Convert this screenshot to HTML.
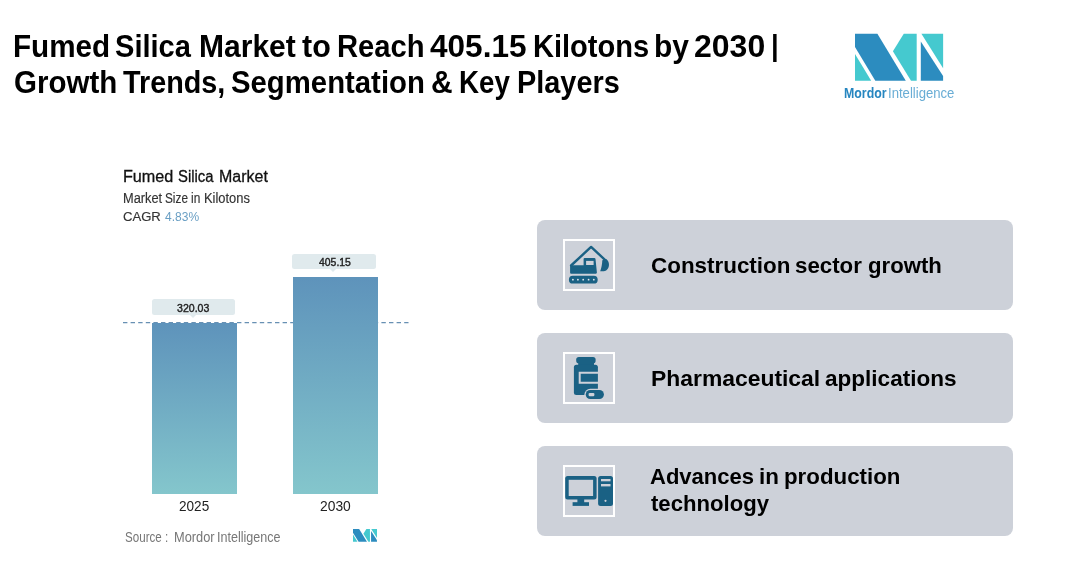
<!DOCTYPE html>
<html lang="en">
<head>
<meta charset="utf-8">
<title>Fumed Silica Market</title>
<style>
html,body{margin:0;padding:0;background:#fff;}
body{width:1081px;height:580px;position:relative;overflow:hidden;font-family:"Liberation Sans",Arial,sans-serif;color:#000;}
.t{position:absolute;white-space:nowrap;line-height:1;transform-origin:0 0;display:block;}
.abs{position:absolute;}
.g{margin:0;padding:0;position:static;display:block;height:0;font-size:0;}
.card{position:absolute;left:537px;width:476px;height:90px;border-radius:8px;background:#cdd1d9;}
.ibox{position:absolute;left:26px;top:19px;width:48px;height:48px;border:2px solid #fff;}
.ibox svg{position:absolute;left:0;top:0;width:48px;height:48px;}
.lbl{position:absolute;height:15.6px;border-radius:2.5px;background:#e0eaed;}
.lbl i{position:absolute;left:50%;top:15.6px;margin-left:-3.7px;width:0;height:0;border-left:3.7px solid transparent;border-right:3.7px solid transparent;border-top:3.7px solid #e0eaed;}
.bar{position:absolute;background:linear-gradient(#5e93bb,#84c6cc);}
</style>
</head>
<body>
<!-- logo -->
<svg class="abs" style="left:840px;top:28px;" width="120" height="60" viewBox="840 28 120 60">
<polygon points="855,33.7 877.4,33.7 905.8,80.7 875.3,80.7 855,47.1" fill="#2c8cbf"/>
<polygon points="855,53.9 855,80.7 871.2,80.7" fill="#45c9cf"/>
<polygon points="903.8,33.7 916.7,33.7 916.7,80.7 911,80.7 892.9,51.3" fill="#45c9cf"/>
<polygon points="921.4,33.7 943.1,33.7 943.1,68.3" fill="#45c9cf"/>
<polygon points="920.8,41.4 920.8,80.7 943.1,80.7 943.1,76.1" fill="#2c8cbf"/>
</svg>

<!-- chart -->
<svg class="abs" style="left:123px;top:320px;" width="290" height="5"><line x1="0" y1="2.6" x2="285.5" y2="2.6" stroke="#6790b3" stroke-width="1.1" stroke-dasharray="4.4 3.2"/></svg>
<div class="bar" style="left:152px;top:322.7px;width:84.8px;height:170.9px;"></div>
<div class="bar" style="left:293.2px;top:276.8px;width:84.7px;height:216.8px;"></div>
<div class="lbl" style="left:151.5px;top:299.3px;width:83.7px;"><i></i></div>
<div class="lbl" style="left:291.9px;top:253.6px;width:84.2px;"><i></i></div>
<svg class="abs" style="left:352.9px;top:528.8px;" width="24.2" height="12.8" viewBox="855 33.7 88.1 47" preserveAspectRatio="none">
<polygon points="855,33.7 877.4,33.7 905.8,80.7 875.3,80.7 855,47.1" fill="#2c8cbf"/>
<polygon points="855,53.9 855,80.7 871.2,80.7" fill="#45c9cf"/>
<polygon points="903.8,33.7 916.7,33.7 916.7,80.7 911,80.7 892.9,51.3" fill="#45c9cf"/>
<polygon points="921.4,33.7 943.1,33.7 943.1,68.3" fill="#45c9cf"/>
<polygon points="920.8,41.4 920.8,80.7 943.1,80.7 943.1,76.1" fill="#2c8cbf"/>
</svg>

<!-- cards -->
<div class="card" style="top:220px;"><div class="ibox"><svg viewBox="0 0 48 48"><g fill="#1a6184">
<path d="M5.1 24.2H18.6V18a1.1 1.1 0 0 1 1.1-1.100H29.400a1.100 1.100 0 0 1 1.100 1L31.900 31.600a1 1 0 0 1-1 1.100H6.100a1 1 0 0 1-1-1Z"/>
<rect x="21.1" y="19.900" width="7.500" height="4.100" fill="#cdd1d9"/>
<path d="M6.100 24.500L26.100 5.900L40 18.900" fill="none" stroke="#1a6184" stroke-width="2.400" stroke-linejoin="round" stroke-linecap="round"/>
<path d="M37.300 19.300L41.200 17.900C44.300 20.200 44.700 24.500 43.100 27.300C42 29.200 40.400 30.300 38.700 30.300H35.200C36.400 27 37.200 23 37.300 19.300Z"/>
<rect x="3.900" y="34.800" width="28.800" height="7.800" rx="3.900"/>
<g fill="#dfe6ec"><circle cx="7.900" cy="38.700" r="0.900"/><circle cx="12.900" cy="38.700" r="0.900"/><circle cx="18.200" cy="38.700" r="0.900"/><circle cx="23.600" cy="38.700" r="0.900"/><circle cx="28.800" cy="38.700" r="0.900"/></g>
</g></svg>
</div></div>
<div class="card" style="top:333px;"><div class="ibox"><svg viewBox="0 0 48 48"><g fill="#1a6184">
<rect x="11.200" y="2.900" width="19.400" height="6.400" rx="2.600"/>
<rect x="13.200" y="8" width="15.800" height="4"/>
<rect x="8.900" y="10.800" width="24" height="30.200" rx="2.500"/>
<path d="M33.200 18.800H14.700V28.800H33.200" fill="none" stroke="#cdd1d9" stroke-width="2"/>
<rect x="19.400" y="34.700" width="20.800" height="11.700" rx="5.850" fill="#cdd1d9"/>
<rect x="20.700" y="36" width="18.200" height="9.100" rx="4.550"/>
<rect x="23.600" y="38.900" width="5.800" height="3.300" rx="1.200" fill="#cdd1d9"/>
</g></svg>
</div></div>
<div class="card" style="top:446px;"><div class="ibox"><svg viewBox="0 0 48 48"><g fill="#1a6184">
<rect x="0.200" y="8.900" width="31.400" height="23.500" rx="2.500"/>
<rect x="3.700" y="12.800" width="24.400" height="16.200" fill="#cdd1d9"/>
<rect x="12.400" y="32" width="6.800" height="4"/>
<rect x="7.600" y="35.200" width="16.400" height="3.700"/>
<rect x="33.100" y="8.900" width="14.900" height="30" rx="2.500"/>
<rect x="36" y="12" width="9.500" height="2.300" fill="#cdd1d9"/>
<rect x="36" y="17" width="9.500" height="2.400" fill="#cdd1d9"/>
<circle cx="40.500" cy="33.800" r="1.100" fill="#cdd1d9"/>
</g></svg>
</div></div>

<h1 class="g">
<span class="t" style="left:13px;top:31px;font-size:31.8px;font-weight:700;color:#000;transform:scaleX(0.9323);">Fumed</span>
<span class="t" style="left:115px;top:31px;font-size:31.8px;font-weight:700;color:#000;transform:scaleX(0.9143);">Silica</span>
<span class="t" style="left:199px;top:31px;font-size:31.8px;font-weight:700;color:#000;transform:scaleX(0.9445);">Market</span>
<span class="t" style="left:302px;top:31px;font-size:31.8px;font-weight:700;color:#000;transform:scaleX(0.9591);">to</span>
<span class="t" style="left:337px;top:31px;font-size:31.8px;font-weight:700;color:#000;transform:scaleX(0.9177);">Reach</span>
<span class="t" style="left:430px;top:31px;font-size:31.8px;font-weight:700;color:#000;transform:scaleX(0.9926);">405.15</span>
<span class="t" style="left:533px;top:31px;font-size:31.8px;font-weight:700;color:#000;transform:scaleX(0.9136);">Kilotons</span>
<span class="t" style="left:654px;top:31px;font-size:31.8px;font-weight:700;color:#000;transform:scaleX(0.9421);">by</span>
<span class="t" style="left:694px;top:31px;font-size:31.8px;font-weight:700;color:#000;transform:scaleX(1.0069);">2030</span>
<span class="t" style="left:771px;top:32px;font-size:28.9px;font-weight:700;color:#000;transform:scaleX(0.9512);">|</span>
<span class="t" style="left:14px;top:67px;font-size:31.8px;font-weight:700;color:#000;transform:scaleX(0.9277);">Growth</span>
<span class="t" style="left:123px;top:67px;font-size:31.8px;font-weight:700;color:#000;transform:scaleX(0.9045);">Trends,</span>
<span class="t" style="left:231px;top:67px;font-size:31.8px;font-weight:700;color:#000;transform:scaleX(0.9220);">Segmentation</span>
<span class="t" style="left:431px;top:67px;font-size:31.8px;font-weight:700;color:#000;transform:scaleX(0.9402);">&amp;</span>
<span class="t" style="left:459px;top:67px;font-size:31.8px;font-weight:700;color:#000;transform:scaleX(0.8721);">Key</span>
<span class="t" style="left:517px;top:67px;font-size:31.8px;font-weight:700;color:#000;transform:scaleX(0.9081);">Players</span>
</h1>
<div class="g">
<span class="t" style="left:651px;top:256px;font-size:21.4px;font-weight:700;color:#000;transform:scaleX(1.0478);">Construction</span>
<span class="t" style="left:795px;top:256px;font-size:21.4px;font-weight:700;color:#000;transform:scaleX(1.0409);">sector</span>
<span class="t" style="left:868px;top:256px;font-size:21.4px;font-weight:700;color:#000;transform:scaleX(1.0366);">growth</span>
<span class="t" style="left:651px;top:369px;font-size:21.4px;font-weight:700;color:#000;transform:scaleX(1.0699);">Pharmaceutical</span>
<span class="t" style="left:825px;top:369px;font-size:21.4px;font-weight:700;color:#000;transform:scaleX(1.0542);">applications</span>
<span class="t" style="left:650px;top:467px;font-size:21.4px;font-weight:700;color:#000;transform:scaleX(1.0292);">Advances</span>
<span class="t" style="left:759px;top:467px;font-size:21.4px;font-weight:700;color:#000;transform:scaleX(1.0469);">in</span>
<span class="t" style="left:784px;top:467px;font-size:21.4px;font-weight:700;color:#000;transform:scaleX(1.0424);">production</span>
<span class="t" style="left:651px;top:494px;font-size:21.4px;font-weight:700;color:#000;transform:scaleX(1.0342);">technology</span>
</div>
<p class="g">
<span class="t" style="left:844px;top:86px;font-size:14.5px;font-weight:700;color:#2686c0;transform:scaleX(0.8513);">Mordor</span>
<span class="t" style="left:888px;top:86px;font-size:14.5px;font-weight:400;color:#69add5;transform:scaleX(0.9050);">Intelligence</span>
</p>
<section class="g">
<span class="t" style="left:123px;top:169px;font-size:16px;font-weight:400;color:#111;transform:scaleX(1.0103);-webkit-text-stroke:0.3px #111;">Fumed</span>
<span class="t" style="left:178px;top:169px;font-size:16px;font-weight:400;color:#111;transform:scaleX(0.9275);-webkit-text-stroke:0.3px #111;">Silica</span>
<span class="t" style="left:219px;top:169px;font-size:16px;font-weight:400;color:#111;transform:scaleX(0.9985);-webkit-text-stroke:0.3px #111;">Market</span>
<span class="t" style="left:123px;top:192px;font-size:13.8px;font-weight:400;color:#333;transform:scaleX(0.9284);-webkit-text-stroke:0.15px #333;">Market</span>
<span class="t" style="left:165px;top:192px;font-size:13.8px;font-weight:400;color:#333;transform:scaleX(0.8556);-webkit-text-stroke:0.15px #333;">Size</span>
<span class="t" style="left:191px;top:192px;font-size:13.8px;font-weight:400;color:#333;transform:scaleX(0.8603);-webkit-text-stroke:0.15px #333;">in</span>
<span class="t" style="left:204px;top:192px;font-size:13.8px;font-weight:400;color:#333;transform:scaleX(0.9361);-webkit-text-stroke:0.15px #333;">Kilotons</span>
<span class="t" style="left:123px;top:210px;font-size:13.2px;font-weight:400;color:#333;transform:scaleX(0.9929);-webkit-text-stroke:0.15px #333;">CAGR</span>
<span class="t" style="left:165px;top:210px;font-size:13.2px;font-weight:400;color:#6a9fc4;transform:scaleX(0.9119);">4.83%</span>
<span class="t" style="left:177px;top:303px;font-size:11.2px;font-weight:400;color:#222;transform:scaleX(0.9454);-webkit-text-stroke:0.4px #222;">320.03</span>
<span class="t" style="left:319px;top:257px;font-size:11.2px;font-weight:400;color:#222;transform:scaleX(0.9314);-webkit-text-stroke:0.4px #222;">405.15</span>
<span class="t" style="left:179px;top:499px;font-size:14.5px;font-weight:400;color:#222;transform:scaleX(0.9357);">2025</span>
<span class="t" style="left:320px;top:499px;font-size:14.5px;font-weight:400;color:#222;transform:scaleX(0.9533);">2030</span>
<span class="t" style="left:125px;top:531px;font-size:13.8px;font-weight:400;color:#777;transform:scaleX(0.8409);">Source :</span>
<span class="t" style="left:174px;top:531px;font-size:13.8px;font-weight:400;color:#777;transform:scaleX(0.9286);">Mordor</span>
<span class="t" style="left:217px;top:531px;font-size:13.8px;font-weight:400;color:#777;transform:scaleX(0.9105);">Intelligence</span>
</section>
</body>
</html>
